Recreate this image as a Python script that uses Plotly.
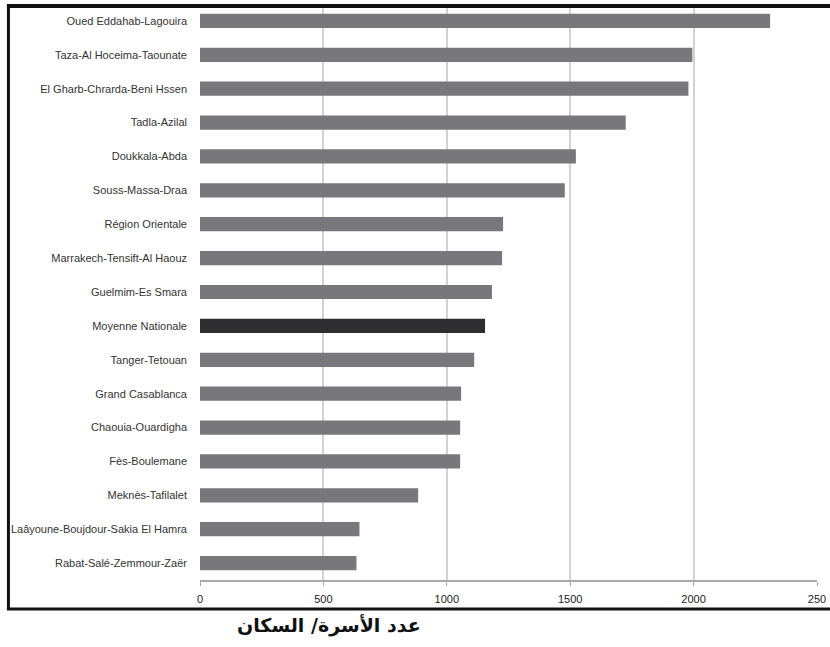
import plotly.graph_objects as go

regions = [
    "Oued Eddahab-Lagouira",
    "Taza-Al Hoceima-Taounate",
    "El Gharb-Chrarda-Beni Hssen",
    "Tadla-Azilal",
    "Doukkala-Abda",
    "Souss-Massa-Draa",
    "Région Orientale",
    "Marrakech-Tensift-Al Haouz",
    "Guelmim-Es Smara",
    "Moyenne Nationale",
    "Tanger-Tetouan",
    "Grand Casablanca",
    "Chaouia-Ouardigha",
    "Fès-Boulemane",
    "Meknès-Tafilalet",
    "Laâyoune-Boujdour-Sakia El Hamra",
    "Rabat-Salé-Zemmour-Zaër",
]
values = [2310, 1995, 1979, 1725, 1523, 1478, 1228, 1224, 1183, 1155,
          1111, 1058, 1054, 1054, 884, 646, 634]
tick_vals = [0, 500, 1000, 1500, 2000, 2500]
tick_text = ["0", "500", "1000", "1500", "2000", "250"]
x_title = "عدد الأسرة/ السكان"

colors = ["#2e2e30" if r == "Moyenne Nationale" else "#78787c" for r in regions]

T, B = 4, 67
PH = 647 - T - B  # plot height in px


def py(px):
    return (PH + T - px) / PH


def pxx(px):
    return (px - 200) / 620


fig = go.Figure(go.Bar(
    x=values, y=regions, orientation="h",
    marker=dict(color=colors, line=dict(width=0)),
    width=0.42,
))

border = dict(color="#111", width=3)
fig.update_layout(
    width=830, height=647,
    margin=dict(l=200, r=10, t=T, b=B),
    plot_bgcolor="white", paper_bgcolor="white",
    showlegend=False,
    font=dict(family="Liberation Sans Narrow, Liberation Sans, sans-serif", color="#333"),
    xaxis=dict(
        range=[0, 2500], tickvals=tick_vals, ticktext=tick_text,
        showgrid=True, gridcolor="#d2d2d2", gridwidth=2,
        showline=True, linecolor="#a8a8a8", linewidth=2,
        ticks="outside", ticklen=4, tickcolor="#a8a8a8",
        tickfont=dict(size=11, color="#222"),
        ticklabelstandoff=4, zeroline=False,
    ),
    yaxis=dict(
        autorange=False, range=[16.5, -0.5],
        categoryorder="array", categoryarray=regions,
        showgrid=False, showline=False, ticks="",
        tickfont=dict(size=11, color="#333"),
        ticklabelstandoff=12,
    ),
    shapes=[
        dict(type="rect", xref="paper", yref="paper", layer="above",
             x0=pxx(6), x1=pxx(835), y0=py(8), y1=py(4),
             fillcolor="#111", line=dict(width=0)),
        dict(type="line", xref="paper", yref="paper", layer="above",
             x0=pxx(6), x1=pxx(835), y0=py(609), y1=py(609), line=border),
        dict(type="line", xref="paper", yref="paper", layer="above",
             x0=pxx(7.5), x1=pxx(7.5), y0=py(4), y1=py(610), line=border),
    ],
    annotations=[dict(
        text="<b>" + x_title + "</b>", xref="paper", yref="paper",
        x=pxx(330), y=py(625), xanchor="center", yanchor="middle",
        showarrow=False, font=dict(family="DejaVu Sans", size=19, color="#111"),
    )],
)

fig.write_html("out.html")
